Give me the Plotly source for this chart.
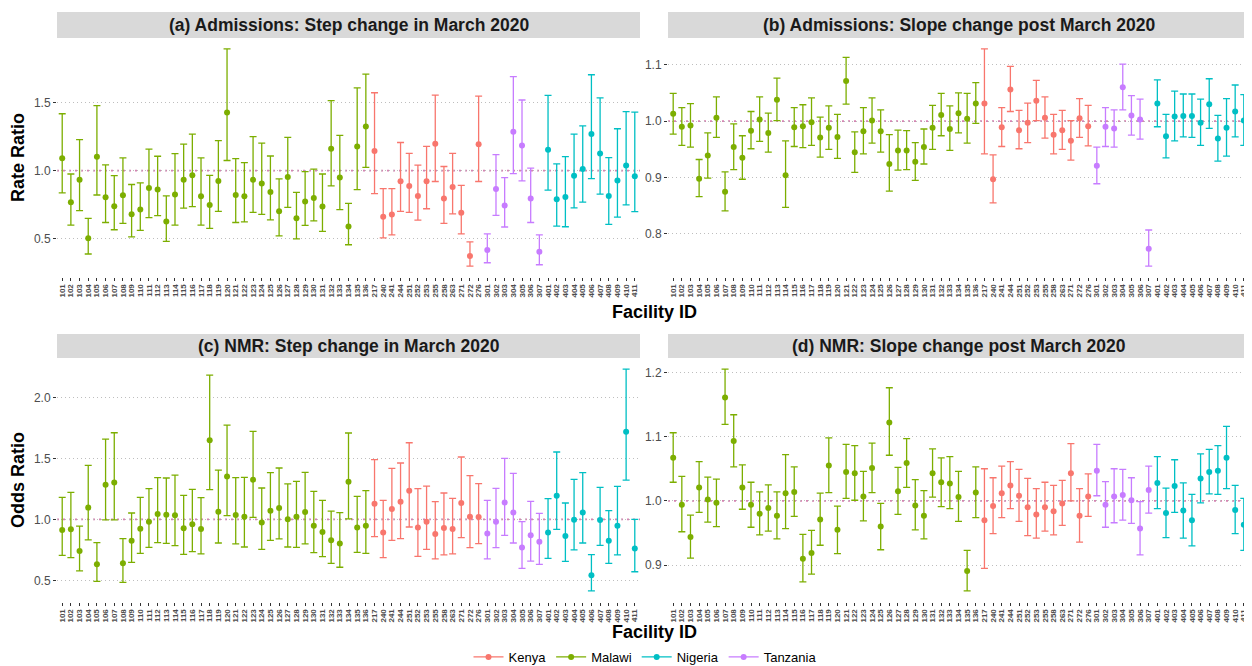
import plotly.graph_objects as go

# ---------------- data ----------------
facility = [str(i) for i in range(101, 137)] + \
    ["217", "240", "241", "244", "251", "252", "253", "255", "258", "263", "271", "272", "276"] + \
    [str(i) for i in range(301, 308)] + [str(i) for i in range(401, 412)]
country = ["Malawi"] * 36 + ["Kenya"] * 13 + ["Tanzania"] * 7 + ["Nigeria"] * 11

# (a) Admissions step change: estimate, lower, upper
a_est = [1.091, 0.769, 0.933, 0.505, 1.103, 0.805, 0.740, 0.820, 0.680, 0.716, 0.873, 0.863, 0.627, 0.825,
         0.933, 0.966, 0.813, 0.748, 0.925, 1.428, 0.822, 0.813, 0.933, 0.906, 0.844, 0.702, 0.954, 0.651,
         0.774, 0.800, 0.738, 1.161, 0.950, 0.591, 1.178, 1.325,
         1.144, 0.663, 0.678, 0.923, 0.887, 0.815, 0.923, 1.197, 0.796, 0.880, 0.692, 0.375, 1.195,
         0.418, 0.865, 0.745, 1.286, 1.185, 0.796, 0.406,
         1.154, 0.791, 0.808, 0.964, 1.012, 1.269, 1.127, 0.815, 0.928, 1.038, 0.960]
a_lo = [0.837, 0.601, 0.707, 0.389, 0.822, 0.620, 0.567, 0.613, 0.514, 0.562, 0.656, 0.671, 0.481, 0.601,
        0.726, 0.736, 0.601, 0.577, 0.702, 1.075, 0.620, 0.625, 0.695, 0.680, 0.639, 0.522, 0.731, 0.500,
        0.599, 0.632, 0.555, 0.889, 0.714, 0.457, 0.861, 1.024,
        0.832, 0.507, 0.529, 0.702, 0.695, 0.637, 0.721, 0.921, 0.613, 0.683, 0.536, 0.300, 0.921,
        0.325, 0.673, 0.587, 0.978, 0.925, 0.620, 0.310,
        0.858, 0.594, 0.589, 0.728, 0.769, 0.942, 0.829, 0.606, 0.659, 0.750, 0.700]
a_hi = [1.418, 0.976, 1.228, 0.651, 1.478, 1.043, 0.964, 1.094, 0.899, 0.911, 1.159, 1.106, 0.815, 1.125,
        1.195, 1.269, 1.094, 0.966, 1.221, 1.894, 1.089, 1.060, 1.250, 1.202, 1.108, 0.940, 1.245, 0.841,
        0.993, 1.012, 0.976, 1.514, 1.260, 0.760, 1.608, 1.709,
        1.572, 0.868, 0.868, 1.207, 1.127, 1.041, 1.178, 1.555, 1.031, 1.127, 0.892, 0.478, 1.548,
        0.536, 1.118, 0.950, 1.690, 1.519, 1.019, 0.529,
        1.553, 1.050, 1.103, 1.269, 1.329, 1.704, 1.534, 1.096, 1.308, 1.433, 1.430]

# (b) Admissions slope change
b_est = [1.013, 0.990, 0.992, 0.898, 0.939, 1.006, 0.875, 0.954, 0.935, 0.983, 1.003, 0.979, 1.038, 0.904,
         0.989, 0.991, 0.998, 0.971, 0.988, 0.972, 1.071, 0.945, 0.982, 1.001, 0.982, 0.924, 0.948, 0.948,
         0.928, 0.954, 0.988, 1.011, 0.986, 1.014, 1.004, 1.031,
         1.031, 0.897, 0.989, 1.056, 0.984, 0.997, 1.036, 1.006, 0.976, 0.984, 0.965, 1.005, 0.991,
         0.921, 0.990, 0.987, 1.060, 1.010, 1.003, 0.774,
         1.031, 0.973, 1.008, 1.009, 1.009, 0.997, 1.030, 0.969, 0.988, 1.017, 1.001]
b_lo = [0.977, 0.957, 0.954, 0.866, 0.899, 0.971, 0.841, 0.914, 0.897, 0.951, 0.964, 0.945, 1.001, 0.847,
        0.955, 0.953, 0.957, 0.936, 0.950, 0.934, 1.030, 0.909, 0.942, 0.961, 0.945, 0.876, 0.913, 0.914,
        0.895, 0.924, 0.950, 0.974, 0.948, 0.979, 0.961, 0.996,
        0.942, 0.855, 0.955, 1.017, 0.951, 0.962, 1.001, 0.970, 0.942, 0.950, 0.931, 0.971, 0.956,
        0.889, 0.955, 0.954, 1.020, 0.975, 0.968, 0.743,
        0.990, 0.935, 0.965, 0.972, 0.971, 0.957, 0.987, 0.929, 0.938, 0.972, 0.957]
b_hi = [1.049, 1.024, 1.031, 0.932, 0.979, 1.043, 0.910, 0.995, 0.974, 1.017, 1.043, 1.014, 1.076, 0.965,
        1.024, 1.029, 1.041, 1.007, 1.027, 1.012, 1.113, 0.981, 1.024, 1.041, 1.020, 0.976, 0.984, 0.983,
        0.962, 0.986, 1.028, 1.049, 1.027, 1.050, 1.049, 1.068,
        1.128, 0.940, 1.024, 1.097, 1.019, 1.032, 1.072, 1.043, 1.012, 1.019, 1.001, 1.040, 1.028,
        0.954, 1.024, 1.020, 1.101, 1.045, 1.039, 0.807,
        1.073, 1.012, 1.053, 1.048, 1.048, 1.039, 1.075, 1.010, 1.040, 1.064, 1.047]

# (c) NMR step change
c_est = [0.913, 0.918, 0.741, 1.096, 0.631, 1.284, 1.303, 0.639, 0.825, 0.923, 0.981, 1.044, 1.038, 1.033,
         0.926, 0.959, 0.921, 1.648, 1.063, 1.352, 1.036, 1.022, 1.325, 0.973, 1.071, 1.093, 1.000, 1.022,
         1.060, 0.948, 0.896, 0.828, 0.801, 1.309, 0.934, 0.948,
         1.128, 0.891, 1.085, 1.145, 1.235, 0.934, 0.981, 0.880, 0.929, 0.921, 1.134, 1.022, 1.019,
         0.883, 0.981, 1.137, 1.055, 0.768, 0.869, 0.817,
         0.891, 1.194, 0.863, 0.997, 1.055, 0.541, 0.995, 0.825, 0.948, 1.719, 0.760]
c_lo = [0.705, 0.686, 0.577, 0.831, 0.492, 0.995, 0.995, 0.483, 0.647, 0.721, 0.770, 0.809, 0.803, 0.784,
        0.713, 0.735, 0.716, 1.243, 0.806, 1.030, 0.798, 0.773, 1.016, 0.754, 0.828, 0.839, 0.773, 0.770,
        0.798, 0.727, 0.694, 0.639, 0.607, 1.003, 0.729, 0.721,
        0.858, 0.686, 0.828, 0.842, 0.937, 0.697, 0.754, 0.675, 0.708, 0.716, 0.850, 0.768, 0.800,
        0.675, 0.768, 0.869, 0.806, 0.598, 0.658, 0.631,
        0.680, 0.918, 0.656, 0.749, 0.806, 0.413, 0.787, 0.639, 0.708, 1.322, 0.570]
c_hi = [1.180, 1.221, 0.945, 1.443, 0.809, 1.658, 1.710, 0.842, 1.052, 1.180, 1.251, 1.342, 1.339, 1.363,
        1.197, 1.246, 1.178, 2.183, 1.404, 1.773, 1.342, 1.344, 1.721, 1.257, 1.383, 1.421, 1.290, 1.311,
        1.385, 1.230, 1.156, 1.068, 1.055, 1.708, 1.188, 1.235,
        1.489, 1.156, 1.418, 1.462, 1.628, 1.251, 1.273, 1.145, 1.216, 1.172, 1.511, 1.358, 1.292,
        1.156, 1.254, 1.500, 1.377, 0.981, 1.148, 1.049,
        1.169, 1.552, 1.134, 1.328, 1.383, 0.710, 1.262, 1.071, 1.270, 2.232, 1.000]

# (d) NMR slope change
d_est = [1.067, 0.994, 0.944, 1.021, 1.002, 0.997, 1.161, 1.093, 1.021, 0.994, 0.980, 0.989, 0.977, 1.012,
         1.014, 0.910, 0.919, 0.971, 1.055, 0.955, 1.045, 1.043, 1.007, 1.051, 0.960, 1.122, 1.015, 1.059,
         0.993, 0.977, 1.043, 1.029, 1.027, 1.006, 0.891, 1.013,
         0.970, 0.992, 1.012, 1.024, 1.008, 0.990, 0.979, 0.990, 0.984, 0.996, 1.043, 0.977, 1.007,
         1.047, 0.994, 1.007, 1.009, 1.001, 0.957, 1.017,
         1.028, 0.981, 1.023, 0.985, 0.970, 1.035, 1.045, 1.047, 1.067, 0.986, 0.963]
d_lo = [1.029, 0.952, 0.911, 0.982, 0.967, 0.960, 1.119, 1.053, 0.987, 0.959, 0.947, 0.953, 0.941, 0.957,
        0.976, 0.874, 0.886, 0.931, 1.013, 0.918, 1.004, 1.001, 0.969, 1.013, 0.924, 1.071, 0.979, 1.021,
        0.955, 0.941, 1.006, 0.991, 0.988, 0.968, 0.860, 0.974,
        0.895, 0.949, 0.974, 0.988, 0.968, 0.946, 0.942, 0.953, 0.947, 0.962, 1.000, 0.936, 0.976,
        1.008, 0.959, 0.966, 0.970, 0.965, 0.916, 0.981,
        0.988, 0.943, 0.982, 0.942, 0.930, 0.997, 1.011, 1.010, 1.019, 0.949, 0.923]
d_hi = [1.106, 1.038, 0.978, 1.061, 1.037, 1.034, 1.205, 1.134, 1.056, 1.029, 1.014, 1.025, 1.014, 1.072,
        1.053, 0.948, 0.954, 1.012, 1.098, 0.992, 1.088, 1.086, 1.046, 1.090, 0.996, 1.176, 1.052, 1.097,
        1.033, 1.016, 1.081, 1.067, 1.069, 1.046, 0.923, 1.053,
        1.050, 1.036, 1.054, 1.061, 1.049, 1.035, 1.019, 1.029, 1.024, 1.032, 1.089, 1.019, 1.042,
        1.088, 1.030, 1.050, 1.049, 1.036, 0.999, 1.054,
        1.069, 1.020, 1.064, 1.028, 1.010, 1.073, 1.080, 1.086, 1.116, 1.024, 1.004]

countries = ["Kenya", "Malawi", "Nigeria", "Tanzania"]
colors = {"Kenya": "#F8766D", "Malawi": "#7CAE00", "Nigeria": "#00BFC4", "Tanzania": "#C77CFF"}

panels = [
    ("(a) Admissions: Step change in March 2020", a_est, a_lo, a_hi, 0.5),
    ("(b) Admissions: Slope change post March 2020", b_est, b_lo, b_hi, 0.1),
    ("(c) NMR: Step change in March 2020", c_est, c_lo, c_hi, 0.5),
    ("(d) NMR: Slope change post March 2020", d_est, d_lo, d_hi, 0.1),
]

# the page body adds an 8 px offset; size the figure so it fills the window exactly
OFF = 8
W, H = 1252 - OFF, 666 - OFF
def px_x(p): return (p - OFF) / W
def px_y(p): return 1 - (p - OFF) / H

xdom = [(57, 640), (668, 1249)]
ydom = [(38, 277), (358, 602)]       # pixel top, bottom (screen coordinates)
strips = [(12, 38), (334, 358)]

FONT = "Liberation Sans, Arial, Helvetica, sans-serif"
fig = go.Figure()
layout = dict(width=W, height=H, margin=dict(l=0, r=0, t=0, b=0, autoexpand=False),
              paper_bgcolor="white", plot_bgcolor="white",
              font=dict(family=FONT, color="#000000"),
              shapes=[], annotations=[])

for k, (title, est, lo, hi, dt) in enumerate(panels):
    r, c = divmod(k, 2)
    n = k + 1
    xa = "x" if n == 1 else f"x{n}"
    ya = "y" if n == 1 else f"y{n}"
    for ctry in countries:
        idx = [i for i, cc in enumerate(country) if cc == ctry]
        fig.add_trace(go.Scatter(
            x=[facility[i] for i in idx], y=[est[i] for i in idx],
            mode="markers", marker=dict(color=colors[ctry], size=6),
            error_y=dict(type="data", symmetric=False,
                         array=[hi[i] - est[i] for i in idx],
                         arrayminus=[est[i] - lo[i] for i in idx],
                         color=colors[ctry], thickness=1.3, width=3.5),
            xaxis=xa, yaxis=ya, showlegend=False, name=ctry))
    lo_all, hi_all = min(lo), max(hi)
    pad = (hi_all - lo_all) * 0.05
    x0, x1 = xdom[c]
    yt, yb = ydom[r]
    layout["xaxis" if n == 1 else f"xaxis{n}"] = dict(
        domain=[px_x(x0), min(px_x(x1), 1.0)], anchor=ya, type="category",
        categoryorder="array", categoryarray=facility, range=[-0.6, len(facility) - 0.4],
        tickmode="linear", dtick=1, tick0=0,
        tickangle=-90, tickfont=dict(size=8, color="#4D4D4D", weight="bold"),
        ticks="outside", ticklen=3, tickcolor="#333333", tickwidth=1,
        showgrid=False, zeroline=False, showline=False, automargin=False)
    layout["yaxis" if n == 1 else f"yaxis{n}"] = dict(
        domain=[px_y(yb), px_y(yt)], anchor=xa, range=[lo_all - pad, hi_all + pad],
        dtick=dt, tickformat=".1f", tickfont=dict(size=12, color="#4D4D4D"),
        ticks="outside", ticklen=3, tickcolor="#333333",
        showgrid=True, gridcolor="#BEBEBE", gridwidth=1, griddash="1px,3px",
        zeroline=False, showline=False, automargin=False)
    # reference line at 1
    layout["shapes"].append(dict(type="line", xref=f"{xa} domain", yref=ya, x0=0, x1=1, y0=1, y1=1,
                                 line=dict(color="rgba(204,110,165,0.85)", width=1.8, dash="2px,4px"),
                                 layer="below"))
    # strip
    sy0, sy1 = strips[r]
    layout["shapes"].append(dict(type="rect", xref="paper", yref="paper",
                                 x0=px_x(x0), x1=min(px_x(x1), 1.0), y0=px_y(sy1), y1=px_y(sy0),
                                 fillcolor="#D9D9D9", line=dict(width=0), layer="below"))
    layout["annotations"].append(dict(text=f"<b>{title}</b>", xref="paper", yref="paper",
                                      x=px_x((x0 + x1) / 2), y=px_y((sy0 + sy1) / 2),
                                      showarrow=False, font=dict(size=17.5, color="#1A1A1A"),
                                      xanchor="center", yanchor="middle"))

# axis titles
for ytxt, ypix in [("Rate Ratio", 158), ("Odds Ratio", 480)]:
    layout["annotations"].append(dict(text=f"<b>{ytxt}</b>", xref="paper", yref="paper",
                                      x=px_x(18), y=px_y(ypix), textangle=-90, showarrow=False,
                                      font=dict(size=18), xanchor="center", yanchor="middle"))
for ypix in [312, 632]:
    layout["annotations"].append(dict(text="<b>Facility ID</b>", xref="paper", yref="paper",
                                      x=px_x(654), y=px_y(ypix), showarrow=False,
                                      font=dict(size=18), xanchor="center", yanchor="middle"))

# legend entries
for ctry in countries:
    fig.add_trace(go.Scatter(x=[None], y=[None], mode="lines+markers", name=ctry,
                             marker=dict(color=colors[ctry], size=6),
                             line=dict(color=colors[ctry], width=1.3), showlegend=True))

layout["legend"] = dict(orientation="h", x=px_x(645), xanchor="center", y=px_y(657), yanchor="middle",
                        font=dict(size=13), itemwidth=30, bgcolor="rgba(0,0,0,0)")

fig.update_layout(**layout)
fig.write_html("out.html")
